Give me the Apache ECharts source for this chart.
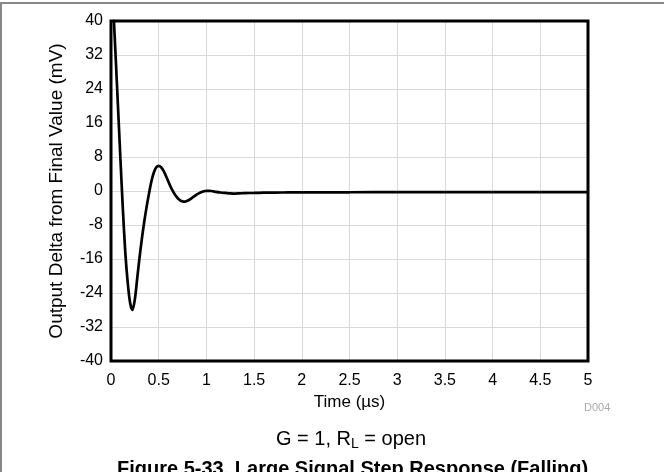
<!DOCTYPE html>
<html>
<head>
<meta charset="utf-8">
<script src="https://cdn.jsdelivr.net/npm/echarts@6/dist/echarts.min.js"></script>
<style>
html,body{margin:0;padding:0;background:#fff;}
#c{width:664px;height:472px;}
</style>
</head>
<body>
<div id="c"></div>
<script>
// Time (µs)
var timeUs = [0, 0.025, 0.05, 0.075, 0.1, 0.125, 0.15, 0.175, 0.2, 0.225, 0.25, 0.275, 0.3, 0.325, 0.35, 0.375, 0.4, 0.425, 0.45, 0.475, 0.5, 0.525, 0.55, 0.575, 0.6, 0.625, 0.65, 0.675, 0.7, 0.725, 0.75, 0.775, 0.8, 0.825, 0.85, 0.875, 0.9, 0.925, 0.95, 0.975, 1.0, 1.025, 1.05, 1.075, 1.1, 1.15, 1.2, 1.25, 1.3, 1.35, 1.4, 1.5, 1.6, 1.8, 2.0, 2.5, 3.0, 4.0, 5.0];
// Output delta from final value (mV)
var deltaMv = [52, 42.5, 31, 19, 7, -4.5, -14.5, -21.5, -26.3, -28, -25.5, -20.5, -15.5, -11, -7, -3.5, -0.4, 2.4, 4.4, 5.6, 5.9, 5.6, 4.8, 3.6, 2.3, 1.0, -0.1, -1.0, -1.7, -2.2, -2.45, -2.5, -2.3, -2.0, -1.6, -1.2, -0.8, -0.5, -0.25, -0.05, 0.05, 0.05, 0, -0.1, -0.2, -0.35, -0.45, -0.55, -0.6, -0.55, -0.5, -0.45, -0.4, -0.35, -0.3, -0.3, -0.25, -0.25, -0.25];
var xTicks = {min: 0, max: 5, interval: 0.5};
var yTicks = {min: -40, max: 40, interval: 8};

var chart = echarts.init(document.getElementById('c'), null, {renderer: 'canvas'});
var font = 'Liberation Sans, Arial, sans-serif';
var data = timeUs.map(function (t, i) { return [t, deltaMv[i]]; });

chart.setOption({
  animation: false,
  backgroundColor: '#fff',
  grid: {left: 111, right: 76, top: 21, bottom: 111, show: false},
  xAxis: {
    type: 'value', min: xTicks.min, max: xTicks.max, interval: xTicks.interval,
    name: 'Time (\u00b5s)', nameLocation: 'middle', nameGap: 25,
    nameTextStyle: {fontFamily: font, fontSize: 17, color: '#000'},
    axisLine: {show: false}, axisTick: {show: false},
    axisLabel: {fontFamily: font, fontSize: 16, color: '#000', margin: 12},
    splitLine: {show: true, lineStyle: {color: '#d9d9d9', width: 1}}
  },
  yAxis: {
    type: 'value', min: yTicks.min, max: yTicks.max, interval: yTicks.interval,
    name: 'Output Delta from Final Value (mV)', nameLocation: 'middle', nameGap: 45,
    nameTextStyle: {fontFamily: font, fontSize: 19, color: '#000'},
    axisLine: {show: false}, axisTick: {show: false},
    axisLabel: {fontFamily: font, fontSize: 16, color: '#000', margin: 8},
    splitLine: {show: true, lineStyle: {color: '#d9d9d9', width: 1}}
  },
  series: [{
    type: 'line', data: data, showSymbol: false, smooth: 0.3, clip: true,
    lineStyle: {color: '#000', width: 2.7}
  }],
  graphic: [
    {type: 'rect', shape: {x: 0, y: 2, width: 664, height: 2}, style: {fill: '#888'}},
    {type: 'rect', shape: {x: 0, y: 2, width: 2, height: 470}, style: {fill: '#888'}},
    {type: 'rect', z: 100, shape: {x: 111, y: 21, width: 477, height: 340}, style: {fill: 'none', stroke: '#000', lineWidth: 3}},
    {type: 'text', left: 584, top: 402, style: {text: 'D004', font: '11px ' + font, fill: '#aaa'}},
    {type: 'text', left: 276, top: 429, style: {
      text: '{a|G = 1, R}{s|L}{a| = open}',
      rich: {a: {fontSize: 20, fontFamily: font, color: '#000'},
             s: {fontSize: 14, fontFamily: font, color: '#000', padding: [10, 0, 0, 0]}}}},
    {type: 'text', left: 117, top: 459, style: {text: 'Figure 5-33. Large Signal Step Response (Falling)', font: 'bold 20px ' + font, fill: '#000'}}
  ]
});
</script>
</body>
</html>
